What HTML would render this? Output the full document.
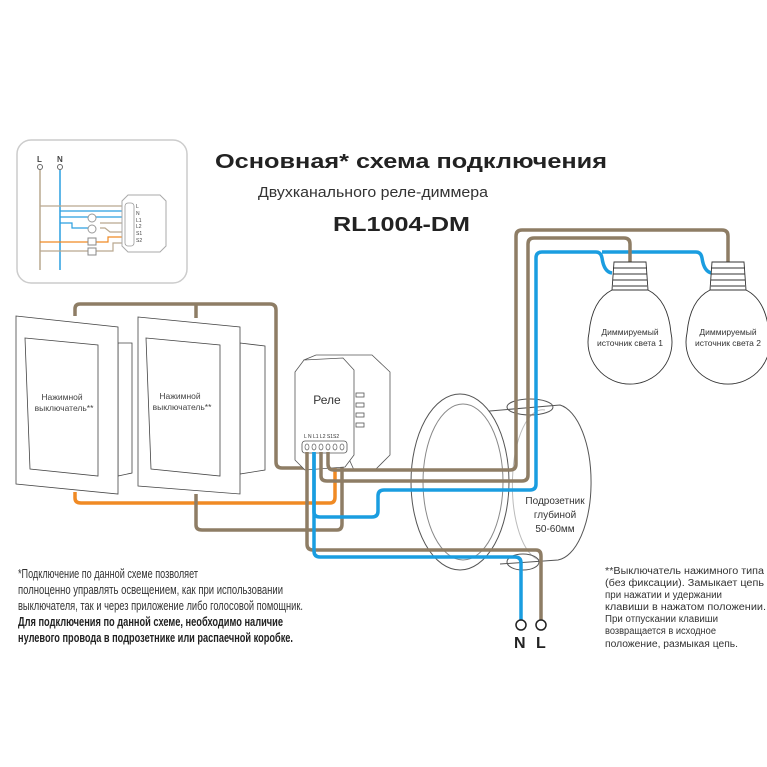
<!DOCTYPE html>
<html><head><meta charset="utf-8"><style>html,body{margin:0;padding:0;background:#fff}svg{display:block}</style></head><body>
<svg width="767" height="767" viewBox="0 0 767 767" xmlns="http://www.w3.org/2000/svg" font-family="'Liberation Sans Narrow','Liberation Sans',sans-serif">
<rect width="767" height="767" fill="#fff"/>
<!-- titles -->
<text x="215" y="168" font-family="'Liberation Sans',sans-serif" font-weight="bold" font-size="20" fill="#222" textLength="392" lengthAdjust="spacingAndGlyphs">Основная* схема подключения</text>
<text x="258" y="197" font-family="'Liberation Sans',sans-serif" font-size="15" fill="#333" textLength="230" lengthAdjust="spacingAndGlyphs">Двухканального реле-диммера</text>
<text x="333" y="231" font-family="'Liberation Sans',sans-serif" font-weight="bold" font-size="20" fill="#222" textLength="137" lengthAdjust="spacingAndGlyphs">RL1004-DM</text>

<!-- inset -->
<rect x="17" y="140" width="170" height="143" rx="14" fill="#fff" stroke="#ccc" stroke-width="1.5"/>
<g font-family="'Liberation Sans',sans-serif" font-weight="bold" font-size="8" fill="#444">
<text x="37" y="162">L</text><text x="57" y="162">N</text></g>
<circle cx="40" cy="167" r="2.5" fill="none" stroke="#666"/><circle cx="60" cy="167" r="2.5" fill="none" stroke="#666"/>
<line x1="40" y1="170" x2="40" y2="270" stroke="#b9a88f" stroke-width="1.5"/>
<line x1="60" y1="170" x2="60" y2="270" stroke="#2a9fe0" stroke-width="1.5"/>
<path d="M40 206 H123" stroke="#b9a88f" stroke-width="1.2" fill="none"/>
<path d="M60 211 H123 M60 217 H123 M60 223 H72 V228 H92" stroke="#2a9fe0" stroke-width="1.2" fill="none"/>
<path d="M100 223 H123 M100 228 H105 L110 232 H123" stroke="#b9a88f" stroke-width="1.2" fill="none"/>
<path d="M40 242 H88 M96 242 H108 V237 H123" stroke="#f08a24" stroke-width="1.2" fill="none"/>
<path d="M40 251 H88 M96 251 H113 V243 H123" stroke="#b9a88f" stroke-width="1.2" fill="none"/>
<circle cx="92" cy="218" r="4" fill="#fff" stroke="#999"/><circle cx="92" cy="229" r="4" fill="#fff" stroke="#999"/>
<rect x="88" y="238" width="8" height="7" fill="#fff" stroke="#888"/><rect x="88" y="248" width="8" height="7" fill="#fff" stroke="#888"/>
<polygon points="122,201 128,195 160,195 166,201 166,246 160,252 128,252 122,246" fill="#fff" stroke="#aaa"/>
<rect x="125" y="203" width="9" height="43" rx="3" fill="#fff" stroke="#999" stroke-width="0.8"/>
<g font-size="5" fill="#444" font-family="'Liberation Sans',sans-serif"><text x="136" y="208">L</text><text x="136" y="215">N</text><text x="136" y="222">L1</text><text x="136" y="228">L2</text><text x="136" y="235">S1</text><text x="136" y="242">S2</text></g>

<!-- junction box (behind wires) -->
<g fill="none" stroke="#555" stroke-width="1">
<path d="M478 412 L560 405 A36 78 0 0 1 558 560 L500 564"/>
<ellipse cx="460" cy="482" rx="49" ry="88" fill="#fff"/>
<ellipse cx="463" cy="482" rx="40" ry="78" stroke="#888"/>
<path d="M545 410 A30 75 0 0 0 540 560" stroke="#bbb"/>
<ellipse cx="530" cy="407" rx="23" ry="8"/>
<ellipse cx="523" cy="562" rx="16" ry="8"/>
</g>
<g font-size="10" fill="#333" text-anchor="middle" font-family="'Liberation Sans',sans-serif">
<text x="555" y="504">Подрозетник</text><text x="555" y="518">глубиной</text><text x="555" y="532">50-60мм</text></g>

<!-- switches wires behind -->
<g fill="none" stroke-width="3.5" stroke-linejoin="round">
<path d="M75 316 V309 Q75 304 80 304 H270 Q276 304 276 310 V462 Q276 468 282 468 H307" stroke="#8e7d65"/>
<path d="M196 318 V304" stroke="#8e7d65"/>
<path d="M75 492 V498 Q75 503 81 503 H330 Q335 503 335 497 V452" stroke="#f08a24"/>
<path d="M196 494 V525 Q196 530 202 530 H337 Q342 530 342 524 V452" stroke="#8e7d65"/>
</g>

<!-- switches -->
<g stroke="#444" stroke-width="0.8" fill="#fff">
<polygon points="118,343 132,343 132,473 118,476"/>
<polygon points="16,316 118,327 118,494 16,484"/>
<polygon points="25,338 98,345 98,476 30,469"/>
<polygon points="240,343 265,346 265,470 240,474"/>
<polygon points="138,317 240,327 240,494 138,486"/>
<polygon points="146,338 220,345 220,476 151,469"/>
</g>
<g font-size="8.5" fill="#444" text-anchor="middle" font-family="'Liberation Sans',sans-serif">
<text x="62" y="400">Нажимной</text><text x="64" y="411">выключатель**</text>
<text x="180" y="399">Нажимной</text><text x="182" y="410">выключатель**</text></g>

<!-- relay -->
<g stroke="#555" stroke-width="0.8" fill="#fff">
<polygon points="316,355 372,355 390,372 390,455 375,470 354,470 304,360"/>
<polygon points="304,360 343,358 354,370 354,455 345,467 305,470 295,460 295,372"/>
<g fill="#fff"><rect x="356" y="393" width="8" height="4"/><rect x="356" y="403" width="8" height="4"/><rect x="356" y="413" width="8" height="4"/><rect x="356" y="423" width="8" height="4"/></g>
<rect x="302" y="441" width="45" height="12" rx="3"/>
</g>
<text x="327" y="404" font-size="12" fill="#333" text-anchor="middle" font-family="'Liberation Sans',sans-serif">Реле</text>
<text x="304" y="438" font-size="5" fill="#333" font-family="'Liberation Sans',sans-serif">L N L1 L2 S1S2</text>
<g fill="none" stroke="#666" stroke-width="0.7"><ellipse cx="307" cy="447" rx="2" ry="3"/><ellipse cx="314" cy="447" rx="2" ry="3"/><ellipse cx="321" cy="447" rx="2" ry="3"/><ellipse cx="328" cy="447" rx="2" ry="3"/><ellipse cx="335" cy="447" rx="2" ry="3"/><ellipse cx="342" cy="447" rx="2" ry="3"/></g>

<!-- main wires -->
<g fill="none" stroke-width="3.5" stroke-linejoin="round">
<path d="M307 452 V544 Q307 550 313 550 H536 Q541 550 541 556 V620" stroke="#8e7d65"/>
<path d="M314 452 V551 Q314 557 320 557 H515 Q521 557 521 563 V620" stroke="#1a9de0"/>
<path d="M314 452 V512 Q314 517 320 517 H372 Q378 517 378 511 V496 Q378 490 384 490 H530 Q536 490 536 484 V258 Q536 252 542 252 H596 Q601 252 602 258 Q604 272 612 273" stroke="#1a9de0"/>
<path d="M602 252 H696 Q701 252 702 258 Q704 272 712 273" stroke="#1a9de0"/>
<path d="M321 452 V476 Q321 481 327 481 H522 Q528 481 528 475 V244 Q528 238 534 238 H624 Q630 238 630 244 V262" stroke="#8e7d65"/>
<path d="M328 452 V464 Q328 470 334 470 H510 Q516 470 516 464 V236 Q516 230 522 230 H722 Q728 230 728 236 V262" stroke="#8e7d65"/>
</g>
<circle cx="521" cy="625" r="5" fill="#fff" stroke="#222" stroke-width="1.5"/>
<circle cx="541" cy="625" r="5" fill="#fff" stroke="#222" stroke-width="1.5"/>
<text x="514" y="648" font-family="'Liberation Sans',sans-serif" font-weight="bold" font-size="16" fill="#222">N</text>
<text x="536" y="648" font-family="'Liberation Sans',sans-serif" font-weight="bold" font-size="16" fill="#222">L</text>

<!-- lamps -->
<g stroke="#333" stroke-width="0.9" fill="#fff">
<path d="M612 290 Q592 300 589 333 A42 42 0 1 0 671 333 Q668 300 648 290 Z"/>
<path d="M614 262 H646 L648 290 H612 Z"/>
<path d="M613 268 H647 M613 274 H647 M613 280 H647 M613 286 H647" fill="none"/>
<path d="M710 290 Q690 300 687 333 A42 42 0 1 0 769 333 Q766 300 746 290 Z"/>
<path d="M712 262 H744 L746 290 H710 Z"/>
<path d="M711 268 H745 M711 274 H745 M711 280 H745 M711 286 H745" fill="none"/>
</g>
<g font-size="8.5" fill="#333" text-anchor="middle" font-family="'Liberation Sans',sans-serif">
<text x="630" y="335">Диммируемый</text><text x="630" y="346">источник света 1</text>
<text x="728" y="335">Диммируемый</text><text x="728" y="346">источник света 2</text></g>

<!-- bottom-left text -->
<g font-size="13" fill="#333">
<text x="18" y="578" textLength="180" lengthAdjust="spacingAndGlyphs">*Подключение по данной схеме позволяет</text>
<text x="18" y="594" textLength="265" lengthAdjust="spacingAndGlyphs">полноценно управлять освещением, как при использовании</text>
<text x="18" y="610" textLength="285" lengthAdjust="spacingAndGlyphs">выключателя, так и через приложение либо голосовой помощник.</text>
<text x="18" y="626" font-weight="bold" fill="#222" textLength="265" lengthAdjust="spacingAndGlyphs">Для подключения по данной схеме, необходимо наличие</text>
<text x="18" y="642" font-weight="bold" fill="#222" textLength="275" lengthAdjust="spacingAndGlyphs">нулевого провода в подрозетнике или распаечной коробке.</text>
</g>
<g font-size="10" fill="#333">
<text x="605" y="574" textLength="159" lengthAdjust="spacingAndGlyphs">**Выключатель нажимного типа</text>
<text x="605" y="586" textLength="159" lengthAdjust="spacingAndGlyphs">(без фиксации). Замыкает цепь</text>
<text x="605" y="598" textLength="117" lengthAdjust="spacingAndGlyphs">при нажатии и удержании</text>
<text x="605" y="610" textLength="161" lengthAdjust="spacingAndGlyphs">клавиши в нажатом положении.</text>
<text x="605" y="622" textLength="113" lengthAdjust="spacingAndGlyphs">При отпускании клавиши</text>
<text x="605" y="634" textLength="111" lengthAdjust="spacingAndGlyphs">возвращается в исходное</text>
<text x="605" y="647" textLength="133" lengthAdjust="spacingAndGlyphs">положение, размыкая цепь.</text>
</g>
</svg>
</body></html>
